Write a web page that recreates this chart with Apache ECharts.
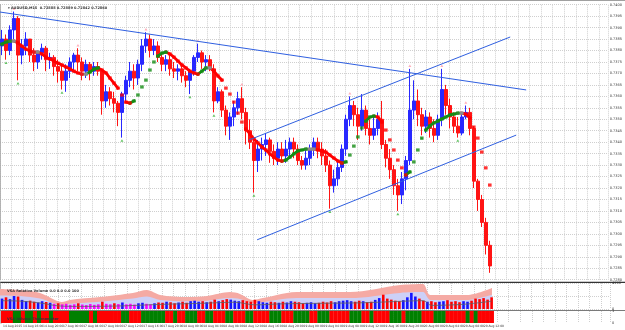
<!DOCTYPE html>
<html>
<head>
<meta charset="utf-8">
<title>AUDUSD,M15</title>
<script src="https://cdn.jsdelivr.net/npm/echarts@6.0.0/dist/echarts.min.js"></script>
<style>
html, body { margin: 0; padding: 0; background: #fff; }
#main { width: 625px; height: 330px; }
</style>
</head>
<body>
<div id="main"></div>
<script>
// price bars (AUDUSD M15)
var barOpen = [0.7382,0.7385,0.7380,0.7389,0.7394,0.7378,0.7382,0.7385,0.7378,0.7375,
  0.7379,0.7381,0.7376,0.7377,0.7373,0.7371,0.7367,0.7371,0.7375,0.7378,
  0.7375,0.7371,0.7374,0.7371,0.7373,0.7371,0.7358,0.7362,0.7359,0.7357,
  0.7353,0.7361,0.7367,0.7371,0.7368,0.7374,0.7382,0.7385,0.7380,0.7382,
  0.7377,0.7374,0.7376,0.7372,0.7371,0.7372,0.7369,0.7367,0.7371,0.7377,
  0.7379,0.7375,0.7376,0.7372,0.7358,0.7362,0.7354,0.7347,0.7351,0.7355,
  0.7359,0.7353,0.7345,0.7340,0.7332,0.7337,0.7339,0.7341,0.7336,0.7333,
  0.7337,0.7334,0.7337,0.7340,0.7337,0.7332,0.7330,0.7333,0.7337,0.7340,
  0.7337,0.7334,0.7330,0.7321,0.7324,0.7329,0.7337,0.7350,0.7356,0.7352,
  0.7347,0.7354,0.7346,0.7343,0.7346,0.7350,0.7339,0.7333,0.7328,0.7321,
  0.7317,0.7324,0.7332,0.7354,0.7358,0.7352,0.7347,0.7351,0.7346,0.7343,
  0.7350,0.7363,0.7356,0.7351,0.7347,0.7344,0.7351,0.7353,0.7346,0.7323,
  0.7315,0.7305,0.7295];
var barClose = [0.7385,0.7380,0.7389,0.7394,0.7378,0.7382,0.7385,0.7378,0.7375,0.7379,
  0.7381,0.7376,0.7377,0.7373,0.7371,0.7367,0.7371,0.7375,0.7378,0.7375,
  0.7371,0.7374,0.7371,0.7373,0.7371,0.7358,0.7362,0.7359,0.7357,0.7353,
  0.7361,0.7367,0.7371,0.7368,0.7374,0.7382,0.7385,0.7380,0.7382,0.7377,
  0.7374,0.7376,0.7372,0.7371,0.7372,0.7369,0.7367,0.7371,0.7377,0.7379,
  0.7375,0.7376,0.7372,0.7358,0.7362,0.7354,0.7347,0.7351,0.7355,0.7359,
  0.7353,0.7345,0.7340,0.7332,0.7337,0.7339,0.7341,0.7336,0.7333,0.7337,
  0.7334,0.7337,0.7340,0.7337,0.7332,0.7330,0.7333,0.7337,0.7340,0.7337,
  0.7334,0.7330,0.7321,0.7324,0.7329,0.7337,0.7350,0.7356,0.7352,0.7347,
  0.7354,0.7346,0.7343,0.7346,0.7350,0.7339,0.7333,0.7328,0.7321,0.7317,
  0.7324,0.7332,0.7354,0.7358,0.7352,0.7347,0.7351,0.7346,0.7343,0.7350,
  0.7363,0.7356,0.7351,0.7347,0.7344,0.7351,0.7353,0.7346,0.7323,0.7315,
  0.7305,0.7295,0.7286];
var barLow = [0.7378,0.7376,0.7378,0.7385,0.7367,0.7374,0.7378,0.7375,0.7371,0.7372,
  0.7376,0.7371,0.7372,0.7369,0.7366,0.7363,0.7362,0.7368,0.7371,0.7371,
  0.7367,0.7368,0.7367,0.7369,0.7369,0.7352,0.7355,0.7356,0.7353,0.7347,
  0.7342,0.7358,0.7364,0.7363,0.7365,0.7371,0.7379,0.7377,0.7378,0.7375,
  0.7371,0.7371,0.7369,0.7368,0.7367,0.7366,0.7364,0.7361,0.7369,0.7375,
  0.7372,0.7371,0.7371,0.7353,0.7357,0.7351,0.7343,0.7341,0.7347,0.7352,
  0.7350,0.7339,0.7337,0.7318,0.7327,0.7332,0.7334,0.7331,0.7330,0.7330,
  0.7331,0.7331,0.7334,0.7333,0.7330,0.7328,0.7328,0.7330,0.7334,0.7333,
  0.7330,0.7327,0.7311,0.7318,0.7321,0.7327,0.7334,0.7347,0.7347,0.7341,
  0.7345,0.7343,0.7339,0.7341,0.7343,0.7337,0.7329,0.7324,0.7317,0.7310,
  0.7313,0.7319,0.7330,0.7350,0.7347,0.7343,0.7344,0.7342,0.7340,0.7341,
  0.7347,0.7352,0.7346,0.7344,0.7342,0.7343,0.7350,0.7343,0.7320,0.7310,
  0.7303,0.7291,0.7283];
var barHigh = [0.7389,0.7387,0.7391,0.7397,0.7395,0.7385,0.7388,0.7385,0.7381,0.7380,
  0.7383,0.7382,0.7379,0.7378,0.7376,0.7374,0.7374,0.7377,0.7379,0.7381,
  0.7377,0.7376,0.7375,0.7375,0.7375,0.7372,0.7365,0.7364,0.7362,0.7358,
  0.7362,0.7369,0.7375,0.7374,0.7376,0.7385,0.7388,0.7387,0.7385,0.7384,
  0.7379,0.7378,0.7378,0.7375,0.7374,0.7374,0.7371,0.7372,0.7378,0.7383,
  0.7380,0.7378,0.7378,0.7374,0.7364,0.7363,0.7356,0.7353,0.7358,0.7362,
  0.7364,0.7355,0.7350,0.7342,0.7341,0.7342,0.7344,0.7342,0.7339,0.7340,
  0.7340,0.7341,0.7342,0.7342,0.7339,0.7334,0.7337,0.7339,0.7342,0.7342,
  0.7340,0.7337,0.7332,0.7328,0.7332,0.7339,0.7352,0.7360,0.7358,0.7355,
  0.7361,0.7356,0.7350,0.7351,0.7353,0.7358,0.7341,0.7337,0.7330,0.7324,
  0.7327,0.7334,0.7372,0.7367,0.7363,0.7355,0.7354,0.7353,0.7350,0.7352,
  0.7372,0.7365,0.7359,0.7353,0.7351,0.7353,0.7356,0.7355,0.7347,0.7324,
  0.7317,0.7307,0.7297];

// moving average, one value per bar
var maLine = [0.73828,0.73837,0.73841,0.73841,0.73833,0.73819,0.73806,0.73798,0.73793,0.73793,
  0.73785,0.73771,0.73763,0.73754,0.73745,0.73737,0.73728,0.73719,0.73710,0.73702,
  0.73697,0.73697,0.73706,0.73719,0.73724,0.73715,0.73702,0.73680,0.73658,0.73636,
  0.73606,0.73575,0.73571,0.73580,0.73606,0.73641,0.73671,0.73715,0.73750,0.73776,
  0.73789,0.73793,0.73785,0.73771,0.73754,0.73737,0.73724,0.73710,0.73702,0.73697,
  0.73710,0.73724,0.73724,0.73710,0.73689,0.73671,0.73636,0.73610,0.73575,0.73527,
  0.73488,0.73458,0.73436,0.73414,0.73397,0.73379,0.73366,0.73349,0.73335,0.73322,
  0.73318,0.73322,0.73335,0.73349,0.73362,0.73366,0.73370,0.73370,0.73370,0.73366,
  0.73362,0.73357,0.73344,0.73331,0.73318,0.73309,0.73314,0.73344,0.73383,0.73423,
  0.73462,0.73492,0.73510,0.73514,0.73510,0.73488,0.73453,0.73410,0.73366,0.73322,
  0.73288,0.73257,0.73270,0.73314,0.73366,0.73418,0.73453,0.73471,0.73484,0.73492,
  0.73501,0.73510,0.73519,0.73523,0.73527,0.73527,0.73523,0.73506,0.73466,0.73418,
  0.73357,0.73288,0.73213];

// swing markers (bar numbers): pink above highs, green below lows
var swingHighBars = [3, 19, 36, 49, 60, 87, 102, 110, 116];
var swingLowBars = [1, 4, 15, 30, 47, 53, 63, 82, 99, 105, 114];

// VSA relative volume
var volume = [40,45,38,50,48,35, 30,32,28,25,30,27,24,
  20,22,18,20,16,18,22,17,15,19,16,18,28,
  20,18,22,19,25,18,20,17,22,24,20,18,
  22,25,24,28,26,22,25,28,24,30,
  32,28,30,26,28,36,30,34,38,36,32,30,
  34,30,28,35,30,26,24,28,26,24,28,
  25,30,28,26,22,24,26,22,24,28,25,30,
  26,30,32,34,30,28,32,30,26,28,35,42,
  55,40,36,32,30,34,45,62,48,40,
  32,28,30,26,28,30,34,28,30,26,30,28,32,
  40,38,42,36,45];
var pinkBand = [[0,77],[5,73],[10,62],[13.7,35],[15.4,27],[17.4,35],[24.9,46],[33.1,62],[36.6,73],[39.9,54],
  [46.6,46],[51.6,50],[57.3,65],[59.8,58],[63,35],[65.5,42],[71.5,62],[76.5,65],[87.2,65],[99.7,92],
  [105.4,96],[107.2,54],[116.4,54],[122.6,81]];
var lavBand = [[0,52],[5,50],[10,40],[13.7,20],[15.4,15],[17.4,20],[24.9,28],[33.1,40],[36.6,48],[39.9,35],
  [46.6,30],[51.6,32],[57.3,42],[59.8,38],[63,22],[65.5,26],[71.5,40],[76.5,42],[87.2,42],[99.7,62],
  [105.4,65],[107.2,35],[116.4,35],[122.6,55]];
var volAvg = [[0.5,32],[5.5,30],[10.5,22],[14.5,12],[20.5,10],[30.5,12],[40.5,18],[50.5,22],[58.5,26],
  [63.5,16],[70.5,20],[80.5,22],[90.5,24],[100.5,30],[105.5,32],[107.5,14],[115.5,18],[122.5,30]];

// thermometer runs: [1 = red / 0 = green, bars]
var thermoRuns = [[1,3],[0,2],[1,1],[0,2],[1,1],[0,1],[1,2],[0,1],[1,4],[0,5],[1,1],[0,1],[1,6],[0,2],[1,3],[0,6],
  [1,2],[0,1],[1,2],[0,3],[1,2],[0,2],[1,3],[0,2],[1,3],[0,2],[1,4],[0,3],[1,3],[0,4],[1,2],
  [0,3],[1,5],[0,3],[1,2],[0,1],[1,4],[0,3],[1,1],[0,4],[1,3],[0,3],[1,5],[0,1],[1,1],[0,1],[1,4]];

// trend lines drawn on the chart [x in bar slots, price]
var trendLines = [
  [[0, 0.73968], [131.6, 0.73628]],
  [[62.3, 0.73410], [127.6, 0.73859]],
  [[64.3, 0.72974], [129.1, 0.73431]]
];
var notes = [
  { text: '1', at: [100.7, 0.73615] },
  { text: '2', at: [111.1, 0.73728] },
  { text: 're-distribution', at: [118.4, 0.73623], box: true },
  { text: '3', at: [115.1, 0.73580], box: true }
];

var timeLabels = ['14 Aug 2015','14 Aug 16:00','14 Aug 20:00','17 Aug 00:00','17 Aug 04:00','17 Aug 08:00',
  '17 Aug 12:00','17 Aug 16:00','17 Aug 20:00','18 Aug 00:00','18 Aug 04:00','18 Aug 08:00','18 Aug 12:00',
  '18 Aug 16:00','18 Aug 20:00','19 Aug 00:00','19 Aug 04:00','19 Aug 08:00','19 Aug 12:00','19 Aug 16:00',
  '19 Aug 20:00','20 Aug 00:00','20 Aug 04:00','20 Aug 08:00','20 Aug 12:00'];

var SLOTS = 152;
var cats = [];
for (var i = 0; i < SLOTS; i++) {
  cats.push(i % 5 === 0 && i / 5 < timeLabels.length ? timeLabels[i / 5] : '');
}

var candles = barOpen.map(function (o, i) {
  return [o, barClose[i], barLow[i], barHigh[i]];
});

var thermo = [];
thermoRuns.forEach(function (r) {
  for (var k = 0; k < r[1]; k++) {
    thermo.push({ value: 1, itemStyle: { color: r[0] ? '#ff0000' : '#008000' } });
  }
});

var RED = '#ff0000', GREEN = '#148c14', GRAY = '#8c8c8c';
function maStep(i) {
  return i > 0 ? maLine[i] - maLine[i - 1] : maLine[1] - maLine[0];
}
function maColor(i) {
  var d = maStep(i);
  if (d > 0.00003) return GREEN;
  if (d < -0.00003) return RED;
  return GRAY;
}
// the indicator looks solid where it moves slowly and dotted where it is steep
var maSolid = {};
maSolid[RED] = []; maSolid[GREEN] = []; maSolid[GRAY] = [];
for (var j = 0; j < maLine.length; j++) {
  maSolid[RED].push(null); maSolid[GREEN].push(null); maSolid[GRAY].push(null);
}
for (var j = 1; j < maLine.length; j++) {
  if (Math.abs(maStep(j)) < 0.00025) {
    maSolid[maColor(j)][j - 1] = maLine[j - 1];
    maSolid[maColor(j)][j] = maLine[j];
  }
}

var dotted = { lineStyle: { color: '#cfcfcf', type: 'dotted', width: 1 } };
var tiny = { fontSize: 3.5, color: '#333', fontFamily: 'DejaVu Sans' };

var series = [];
series.push({
  type: 'candlestick', xAxisIndex: 0, yAxisIndex: 0, data: candles, barWidth: 3,
  itemStyle: { color: '#2828ff', color0: '#ff1414', borderColor: '#2828ff', borderColor0: '#ff1414', borderWidth: 1 },
  markLine: {
    silent: true, symbol: 'none', animation: false,
    lineStyle: { opacity: 0 },
    label: {
      position: 'end', distance: 1, fontSize: 3.5, color: '#fff', backgroundColor: '#000', padding: [0.5, 1],
      formatter: function (p) { return p.value.toFixed(5); }
    },
    data: [{ yAxis: barClose[barClose.length - 1] }]
  }
});
series.push({
  type: 'scatter', xAxisIndex: 0, yAxisIndex: 0, z: 3, silent: true,
  symbol: 'triangle', symbolSize: [3, 2.5], symbolOffset: [0, -3],
  itemStyle: { color: '#ff9aa8' },
  data: swingHighBars.map(function (b) { return [b, barHigh[b]]; })
});
series.push({
  type: 'scatter', xAxisIndex: 0, yAxisIndex: 0, z: 3, silent: true,
  symbol: 'triangle', symbolSize: [3, 2.5], symbolOffset: [0, 3],
  itemStyle: { color: '#3cb43c' },
  data: swingLowBars.map(function (b) { return [b, barLow[b]]; })
});
[RED, GREEN, GRAY].forEach(function (c) {
  series.push({
    type: 'line', xAxisIndex: 0, yAxisIndex: 0, data: maSolid[c], z: 4, silent: true,
    symbol: 'none', connectNulls: false, lineStyle: { color: c, width: 2.8, cap: 'square' }
  });
});
series.push({
  type: 'scatter', xAxisIndex: 0, yAxisIndex: 0, data: maLine, z: 4,
  symbol: 'rect', symbolSize: [3.6, 3.2], silent: true,
  itemStyle: { color: function (p) { return maColor(p.dataIndex); } }
});
trendLines.forEach(function (l) {
  series.push({
    type: 'line', xAxisIndex: 1, yAxisIndex: 0, data: l, symbol: 'none', silent: true, z: 5,
    lineStyle: { color: '#2f5fe0', width: 1 }
  });
});
series.push({
  type: 'scatter', xAxisIndex: 1, yAxisIndex: 0, symbolSize: 1, silent: true, z: 6,
  itemStyle: { opacity: 0 },
  data: notes.map(function (n) {
    return {
      value: n.at,
      label: n.box ? {
        show: true, position: 'inside', formatter: n.text, fontSize: 5.5, color: '#2f5fe0',
        borderColor: '#8892a8', borderWidth: 0.8, backgroundColor: '#f6f7fb', padding: [0.5, 1]
      } : { show: true, position: 'inside', formatter: n.text, fontSize: 6, color: '#2f5fe0' }
    };
  })
});
// volume panel
series.push({
  type: 'line', xAxisIndex: 3, yAxisIndex: 1, data: pinkBand, smooth: 0.3, symbol: 'none', silent: true, z: 1,
  lineStyle: { width: 0 }, areaStyle: { color: '#f5aaa4', opacity: 1 }
});
series.push({
  type: 'line', xAxisIndex: 3, yAxisIndex: 1, data: lavBand, smooth: 0.3, symbol: 'none', silent: true, z: 2,
  lineStyle: { width: 0 }, areaStyle: { color: '#cdd0f7', opacity: 1 }
});
series.push({
  type: 'bar', xAxisIndex: 2, yAxisIndex: 1, data: volume, barWidth: 2.6, silent: true, z: 5,
  itemStyle: {
    color: function (p) {
      var i = p.dataIndex;
      if (volume[i] < 22) return '#ff00ff';
      return barClose[i] >= barOpen[i] ? '#1414ff' : '#ff0000';
    }
  }
});
series.push({
  type: 'line', xAxisIndex: 3, yAxisIndex: 1, data: volAvg, smooth: 0.3, symbol: 'none', silent: true, z: 6,
  lineStyle: { color: '#606060', width: 0.8 }
});
// thermometer
series.push({
  type: 'bar', xAxisIndex: 4, yAxisIndex: 2, data: thermo, barWidth: 4.3, silent: true, z: 3
});

function slotAxis(grid) {
  return {
    type: 'value', gridIndex: grid, min: 0, max: SLOTS, interval: 2.88,
    axisLine: { show: false }, axisTick: { show: false }, axisLabel: { show: false },
    splitLine: dotted
  };
}
function catAxis(grid, labels) {
  return {
    type: 'category', gridIndex: grid, data: cats, boundaryGap: true,
    axisLine: { show: false }, axisTick: { show: false }, splitLine: { show: false },
    axisLabel: labels ? { show: true, interval: 0, align: 'left', margin: 1.5, fontSize: 3, color: '#333', fontFamily: 'DejaVu Sans' } : { show: false }
  };
}

var option = {
  animation: false,
  backgroundColor: '#ffffff',
  title: [
    { text: '▾ AUDUSD,M15  0.72888 0.72889 0.72842 0.72860', left: 3, top: 1, textStyle: tiny },
    { text: 'VSA Relative Volume 0.0 0.0 0.0 100', left: 2, top: 284, textStyle: tiny },
    { text: 'VSA Volume Thermometer', left: 2, top: 312, textStyle: tiny }
  ],
  grid: [
    { left: 0, right: 15, top: 4.7, height: 275 },
    { left: 0, right: 15, top: 283, height: 26 },
    { left: 0, right: 15, top: 311, height: 12 }
  ],
  xAxis: [catAxis(0, false), slotAxis(0), catAxis(1, false), slotAxis(1), catAxis(2, true), slotAxis(2)],
  yAxis: [
    {
      gridIndex: 0, position: 'right', scale: true, min: 0.7280, max: 0.7400, interval: 0.0005,
      axisLine: { show: true, lineStyle: { color: '#a0a0a0', width: 1.5 } }, axisTick: { show: false },
      axisLabel: Object.assign({ margin: 2, formatter: function (v) { return v.toFixed(4); } }, tiny),
      splitLine: dotted
    },
    {
      gridIndex: 1, position: 'right', min: 0, max: 100, interval: 50,
      axisLine: { show: true, lineStyle: { color: '#a0a0a0', width: 1.5 } }, axisTick: { show: false },
      axisLabel: Object.assign({ margin: 2, customValues: [0, 100], formatter: function (v) { return v === 0 ? '0' : '4990'; } }, tiny),
      splitLine: dotted
    },
    {
      gridIndex: 2, position: 'right', min: 0, max: 1, interval: 1,
      axisLine: { show: true, lineStyle: { color: '#a0a0a0', width: 1.5 } }, axisTick: { show: false },
      axisLabel: Object.assign({ margin: 2 }, tiny),
      splitLine: { show: false }
    }
  ],
  graphic: [
    { type: 'line', shape: { x1: 0, y1: 282.3, x2: 625, y2: 282.3 }, style: { stroke: '#000', lineWidth: 1 } },
    { type: 'line', shape: { x1: 0, y1: 310.5, x2: 625, y2: 310.5 }, style: { stroke: '#7a7a7a', lineWidth: 1 } },
    { type: 'line', shape: { x1: 0, y1: 0.5, x2: 625, y2: 0.5 }, style: { stroke: '#a0a0a0', lineWidth: 1 } }
  ],
  series: series
};

var chart = echarts.init(document.getElementById('main'), null, { width: 625, height: 330, devicePixelRatio: 1 });
chart.setOption(option);
</script>
</body>
</html>
